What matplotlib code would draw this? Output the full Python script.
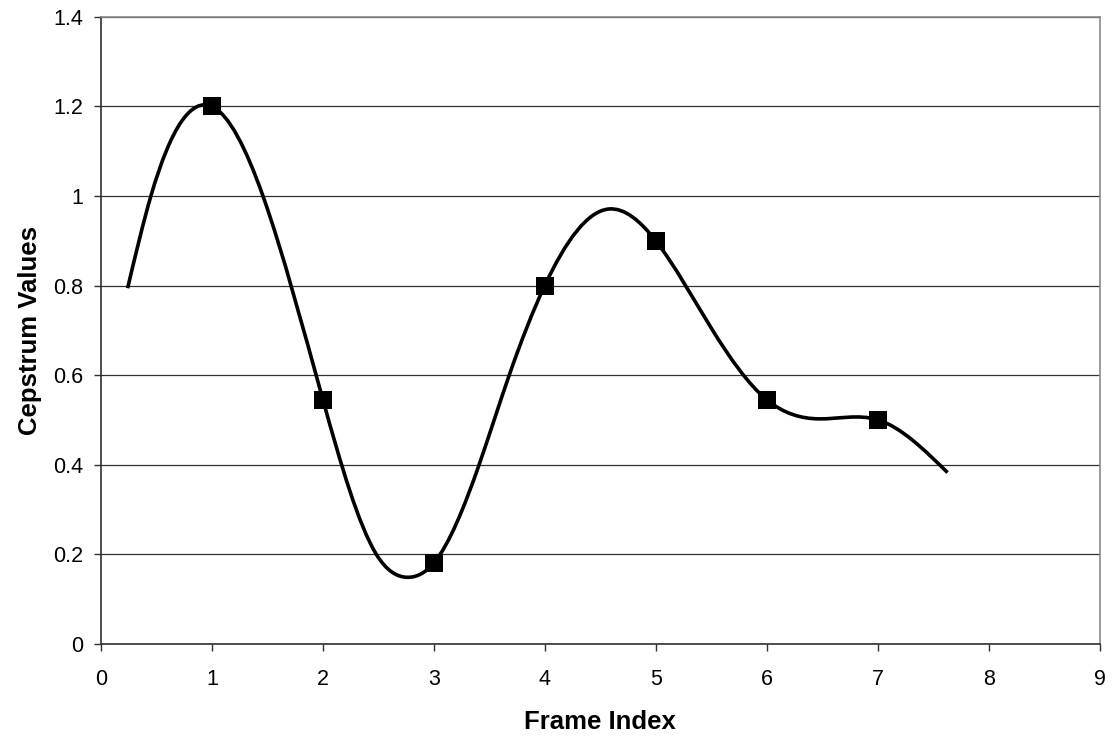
import matplotlib
matplotlib.use("Agg")
import matplotlib.pyplot as plt
import numpy as np
from matplotlib.path import Path
from matplotlib.patches import PathPatch

plt.rcParams['font.family'] = ['Liberation Sans', 'DejaVu Sans']

# marker data (frame index, cepstrum value)
frame_idx = [1, 2, 3, 4, 5, 6, 7]
cepstrum = [1.2, 0.545, 0.18, 0.8, 0.9, 0.545, 0.5]

# key points of the smoothed curve
curve_x = [0.24, 0.45, 1.0, 1.46, 2.0, 2.48, 2.76, 3.0, 3.41, 3.68, 4.0,
           4.58, 5.0, 5.51, 6.0, 6.47, 7.0, 7.63]
curve_y = [0.794, 1.0, 1.2, 1.0, 0.545, 0.2, 0.148, 0.18, 0.401, 0.6, 0.8,
           0.971, 0.9, 0.701, 0.545, 0.502, 0.5, 0.382]

x_ticks = list(range(0, 10))
y_ticks = [0, 0.2, 0.4, 0.6, 0.8, 1, 1.2, 1.4]
y_tick_labels = ["0", "0.2", "0.4", "0.6", "0.8", "1", "1.2", "1.4"]


def spline_path(xs, ys):
    # natural cubic spline through the points, drawn as bezier segments
    x = np.asarray(xs, float)
    y = np.asarray(ys, float)
    n = len(x)
    h = np.diff(x)
    A = np.zeros((n, n))
    b = np.zeros(n)
    A[0, 0] = A[-1, -1] = 1.0
    for i in range(1, n - 1):
        A[i, i - 1] = h[i - 1]
        A[i, i] = 2 * (h[i - 1] + h[i])
        A[i, i + 1] = h[i]
        b[i] = 6 * ((y[i + 1] - y[i]) / h[i] - (y[i] - y[i - 1]) / h[i - 1])
    M = np.linalg.solve(A, b)
    # slopes at the knots
    m = np.zeros(n)
    for i in range(n - 1):
        m[i] = (y[i + 1] - y[i]) / h[i] - h[i] * (2 * M[i] + M[i + 1]) / 6
    m[-1] = (y[-1] - y[-2]) / h[-1] + h[-1] * (M[-2] + 2 * M[-1]) / 6
    verts = [(x[0], y[0])]
    codes = [Path.MOVETO]
    for i in range(n - 1):
        d = h[i] / 3
        verts += [(x[i] + d, y[i] + m[i] * d),
                  (x[i + 1] - d, y[i + 1] - m[i + 1] * d),
                  (x[i + 1], y[i + 1])]
        codes += [Path.CURVE4] * 3
    return Path(verts, codes)


fig = plt.figure(figsize=(11.12, 7.38), dpi=100)
ax = fig.add_axes([0.0908, 0.128, 0.898, 0.849])

ax.add_patch(PathPatch(spline_path(curve_x, curve_y), facecolor="none",
                       edgecolor="black", lw=2.6, capstyle="butt",
                       joinstyle="round", zorder=3))
ax.plot(frame_idx, cepstrum, ls="none", marker="s", ms=13.5, color="black",
        markeredgewidth=0, zorder=4)

ax.set_xlim(0, 9)
ax.set_ylim(0, 1.4)
ax.set_xticks(x_ticks)
ax.set_yticks(y_ticks)
ax.set_yticklabels(y_tick_labels)
ax.grid(axis="y", color="#303030", lw=0.9, zorder=1)
ax.set_axisbelow(True)

for side in ("left", "bottom"):
    ax.spines[side].set_color("#303030")
    ax.spines[side].set_linewidth(1.2)
for side in ("top", "right"):
    ax.spines[side].set_color("#8a8a8a")
    ax.spines[side].set_linewidth(1.2)

ax.tick_params(direction="out", length=5, width=1, color="#303030",
               labelsize=15.5)
ax.tick_params(axis="x", pad=13)
ax.tick_params(axis="y", pad=8)

ax.set_xlabel("Frame Index", fontsize=18.5, fontweight="bold", labelpad=15)
ax.set_ylabel("Cepstrum Values", fontsize=18.5, fontweight="bold", labelpad=8)

fig.savefig("out.png", dpi=100)
